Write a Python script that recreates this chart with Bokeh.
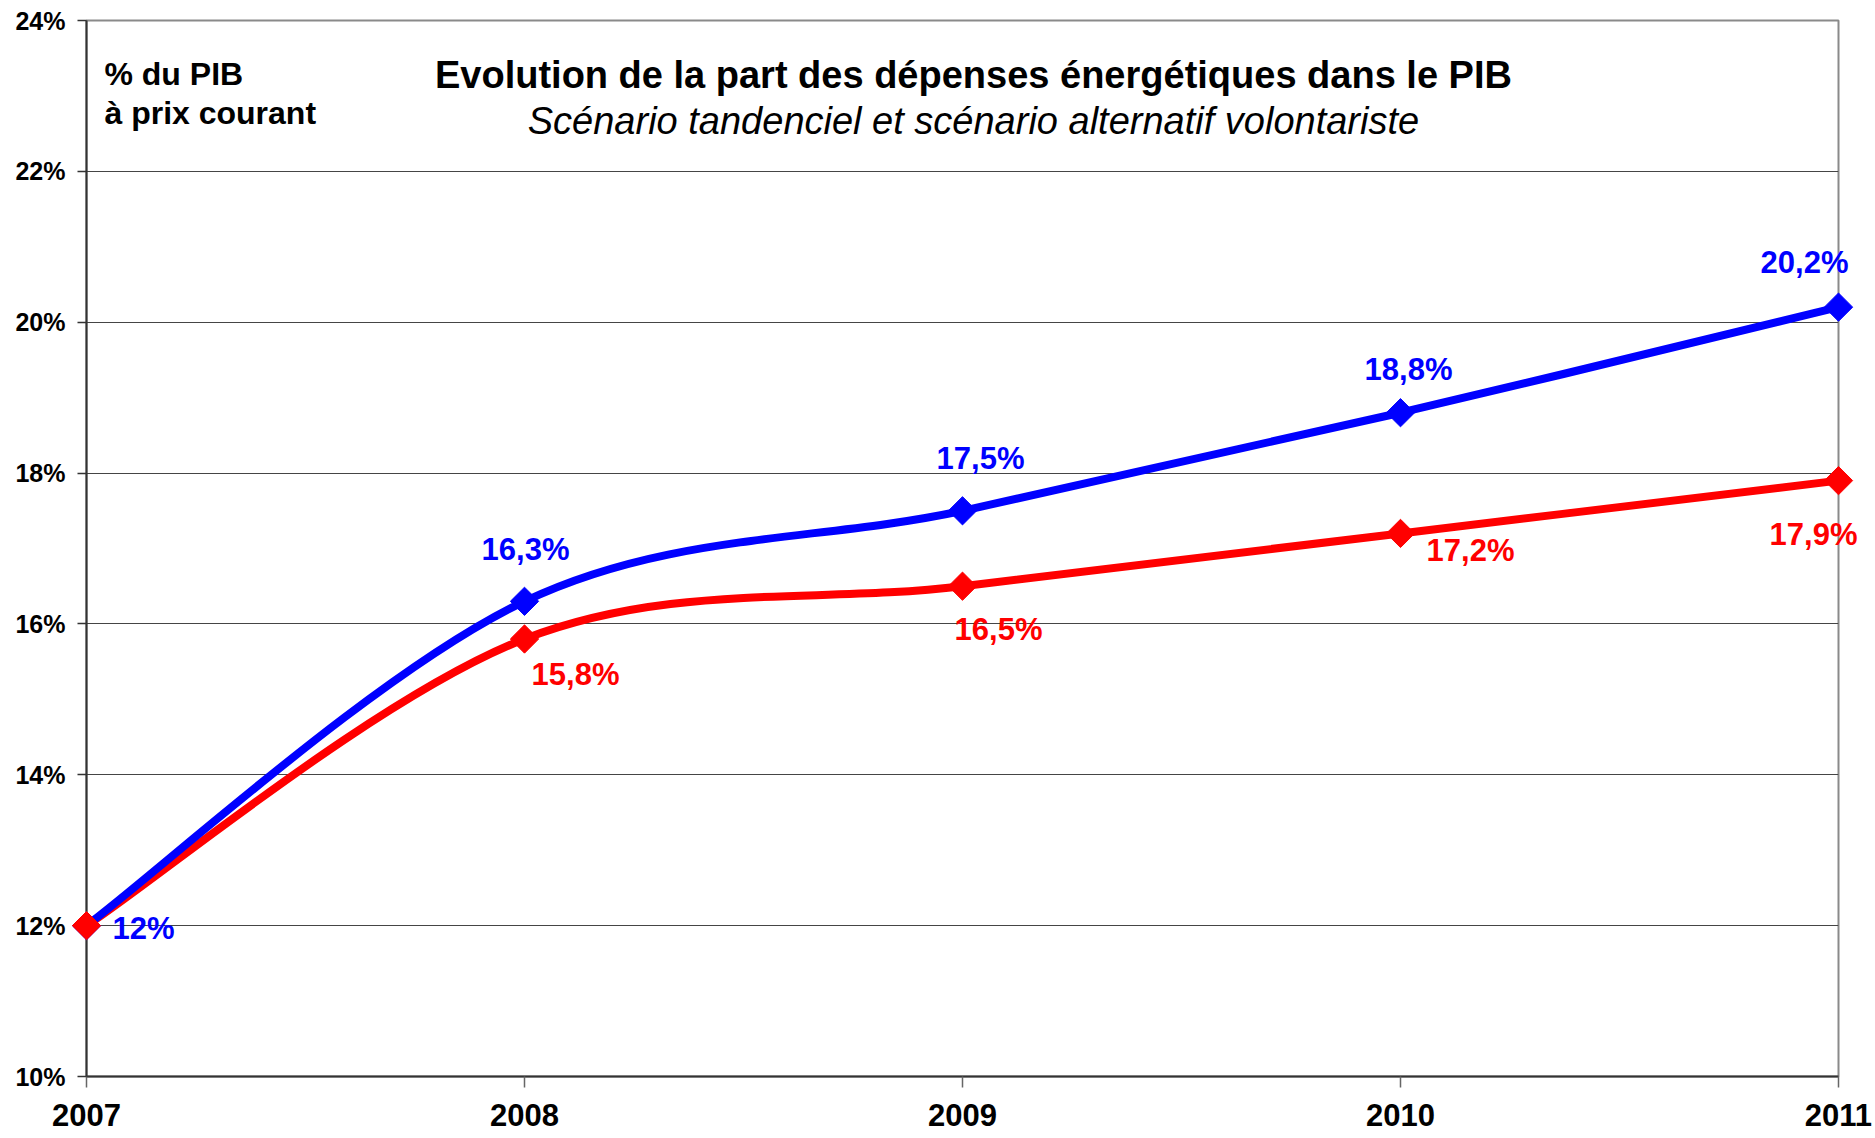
import numpy as np
from bokeh.plotting import figure
from bokeh.models import (ColumnDataSource, FixedTicker, PrintfTickFormatter, Label, Range1d)
from bokeh.core.properties import value
from bokeh.embed import file_html
from bokeh.resources import INLINE

# ---- data ----
years = [2007, 2008, 2009, 2010, 2011]
tendanciel = [12.0, 16.3, 17.5, 18.8, 20.2]      # blue
volontariste = [12.0, 15.8, 16.5, 17.2, 17.9]    # red
tendanciel_labels = ["12%", "16,3%", "17,5%", "18,8%", "20,2%"]
volontariste_labels = ["", "15,8%", "16,5%", "17,2%", "17,9%"]
y_ticks = [10, 12, 14, 16, 18, 20, 22, 24]

title_text = "Evolution de la part des dépenses énergétiques dans le PIB"
subtitle_text = "Scénario tandenciel et scénario alternatif volontariste"
unit_line1 = "% du PIB"
unit_line2 = "à prix courant"

FONT_NAME = "Liberation Sans"
FONT = value(FONT_NAME)
BLUE = "#0000FF"
RED = "#FF0000"

p = figure(width=1875, height=1138, output_backend="svg", toolbar_location=None,
           x_range=Range1d(2007, 2011), y_range=Range1d(10, 24),
           min_border_left=86, min_border_top=20, min_border_right=37, min_border_bottom=62)
p.background_fill_color = "white"
p.border_fill_color = "white"
p.outline_line_color = "#8a8a8a"
p.outline_line_width = 2

p.xgrid.visible = False
p.ygrid.ticker = FixedTicker(ticks=y_ticks)
p.ygrid.grid_line_color = "#454545"
p.ygrid.grid_line_width = 1.2

# axes
p.yaxis.ticker = FixedTicker(ticks=y_ticks)
p.yaxis.formatter = PrintfTickFormatter(format="%d%%")
p.yaxis.major_label_text_font = FONT_NAME
p.yaxis.major_label_text_font_style = "bold"
p.yaxis.major_label_text_font_size = "25px"
p.yaxis.major_label_text_color = "black"
p.yaxis.major_label_standoff = 12
p.yaxis.major_tick_out = 9
p.yaxis.major_tick_in = 0
p.yaxis.minor_tick_out = 0
p.yaxis.minor_tick_in = 0
p.yaxis.axis_line_color = "#333333"
p.yaxis.axis_line_width = 2
p.yaxis.major_tick_line_color = "#333333"
p.yaxis.major_tick_line_width = 1.5

p.xaxis.ticker = FixedTicker(ticks=years)
p.xaxis.formatter = PrintfTickFormatter(format="%d")
p.xaxis.major_label_text_font = FONT_NAME
p.xaxis.major_label_text_font_style = "bold"
p.xaxis.major_label_text_font_size = "31px"
p.xaxis.major_label_text_color = "black"
p.xaxis.major_label_standoff = 16
p.xaxis.major_tick_out = 11
p.xaxis.major_tick_in = 0
p.xaxis.minor_tick_out = 0
p.xaxis.minor_tick_in = 0
p.xaxis.axis_line_color = "#333333"
p.xaxis.axis_line_width = 2
p.xaxis.major_tick_line_color = "#666666"
p.xaxis.major_tick_line_width = 1.5


def smooth_segments(xs, ys):
    """Catmull-Rom style bezier control points (Excel-like smoothing)."""
    n = len(xs)
    P = list(zip(xs, ys))
    x0, y0, x1, y1, cx0, cy0, cx1, cy1 = [], [], [], [], [], [], [], []
    for i in range(n - 1):
        pm = P[i - 1] if i > 0 else P[i]
        pa = P[i]
        pb = P[i + 1]
        pp = P[i + 2] if i + 2 < n else P[i + 1]
        x0.append(pa[0]); y0.append(pa[1])
        x1.append(pb[0]); y1.append(pb[1])
        cx0.append(pa[0] + (pb[0] - pm[0]) / 6.0)
        cy0.append(pa[1] + (pb[1] - pm[1]) / 6.0)
        cx1.append(pb[0] - (pp[0] - pa[0]) / 6.0)
        cy1.append(pb[1] - (pp[1] - pa[1]) / 6.0)
    return dict(x0=x0, y0=y0, x1=x1, y1=y1, cx0=cx0, cy0=cy0, cx1=cx1, cy1=cy1)


for ys, col in [(volontariste, RED), (tendanciel, BLUE)]:
    src = ColumnDataSource(smooth_segments(years, ys))
    p.bezier(x0="x0", y0="y0", x1="x1", y1="y1", cx0="cx0", cy0="cy0", cx1="cx1", cy1="cy1",
             source=src, line_color=col, line_width=8, line_cap="round", level="overlay")

for ys, col in [(tendanciel, BLUE), (volontariste, RED)]:
    p.scatter(years, ys, marker="square", size=20, angle=np.pi / 4,
              fill_color=col, line_color=col, level="overlay")

# data labels (offsets in screen pixels)
blue_src = ColumnDataSource(dict(x=years, y=tendanciel, t=tendanciel_labels,
                                 dx=[57, 1, 18, 8, -34], dy=[3, -52, -52, -43, -45]))
p.text(x="x", y="y", text="t", x_offset="dx", y_offset="dy", source=blue_src,
       text_font=FONT, text_font_style="bold", text_font_size="31px",
       text_color=BLUE, text_align="center", text_baseline="middle", level="overlay")
red_src = ColumnDataSource(dict(x=years[1:], y=volontariste[1:], t=volontariste_labels[1:],
                                dx=[51, 36, 70, -25], dy=[35, 43, 17, 54]))
p.text(x="x", y="y", text="t", x_offset="dx", y_offset="dy", source=red_src,
       text_font=FONT, text_font_style="bold", text_font_size="31px",
       text_color=RED, text_align="center", text_baseline="middle", level="overlay")

# titles inside plot
p.add_layout(Label(x=2009.025, y=23.284, text=title_text, text_font=FONT_NAME, text_font_style="bold",
                   text_font_size="38px", text_align="center", text_baseline="middle", text_color="black"))
p.add_layout(Label(x=2009.025, y=22.661, text=subtitle_text, text_font=FONT_NAME, text_font_style="italic",
                   text_font_size="38px", text_align="center", text_baseline="middle", text_color="black"))
p.add_layout(Label(x=2007.041, y=23.297, text=unit_line1, text_font=FONT_NAME, text_font_style="bold",
                   text_font_size="32px", text_align="left", text_baseline="middle", text_color="black"))
p.add_layout(Label(x=2007.041, y=22.78, text=unit_line2, text_font=FONT_NAME, text_font_style="bold",
                   text_font_size="32px", text_align="left", text_baseline="middle", text_color="black"))

open("out.html", "w").write(file_html(p, INLINE))
